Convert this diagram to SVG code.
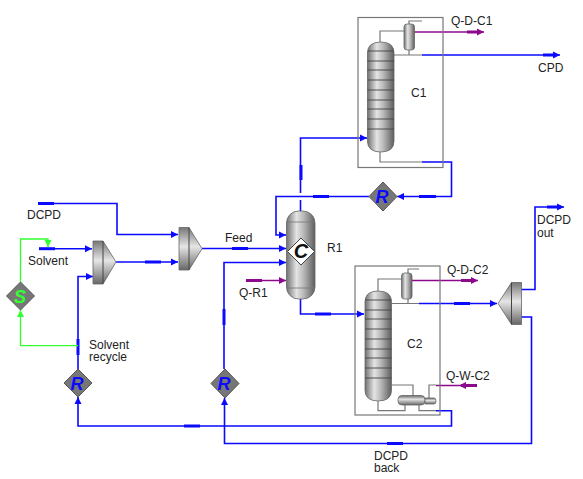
<svg xmlns="http://www.w3.org/2000/svg" width="583" height="479" viewBox="0 0 583 479">
<style>
text{font-family:"Liberation Sans",Arial,sans-serif;font-size:12px;fill:#222}
.b{fill:none;stroke:#0a0aff;stroke-width:1.6}
.p{fill:none;stroke:#8b0a8b;stroke-width:1.6}
.g{fill:none;stroke:#32ff32;stroke-width:1.3}
.k{fill:none;stroke:#777;stroke-width:1.2}
.box{fill:none;stroke:#777;stroke-width:1.2}
.bt{fill:none;stroke:#0a0aff;stroke-width:3}
.pt{fill:none;stroke:#8b0a8b;stroke-width:3}
.tray{stroke:#444;stroke-width:.9}
.ol{stroke:#666;stroke-width:.8}
.dia{fill:#777;stroke:#555;stroke-width:1}
.dl{font-size:18px;font-weight:bold;font-style:italic;text-anchor:middle;fill:#0a0aff}
</style>
<defs>
<linearGradient id="col" x1="0" x2="1" y1="0" y2="0"><stop offset="0" stop-color="#707070"/><stop offset=".35" stop-color="#e4e4e4"/><stop offset=".6" stop-color="#b8b8b8"/><stop offset="1" stop-color="#5e5e5e"/></linearGradient>
<linearGradient id="cap" x1="0" x2="0" y1="0" y2="1"><stop offset="0" stop-color="#8a8a8a"/><stop offset=".6" stop-color="#d8d8d8"/><stop offset="1" stop-color="#9a9a9a"/></linearGradient>
<linearGradient id="hz" x1="0" x2="0" y1="0" y2="1"><stop offset="0" stop-color="#666"/><stop offset=".4" stop-color="#e4e4e4"/><stop offset="1" stop-color="#666"/></linearGradient>
<linearGradient id="mix" x1="0" x2="0" y1="0" y2="1"><stop offset="0" stop-color="#777"/><stop offset=".45" stop-color="#e6e6e6"/><stop offset="1" stop-color="#666"/></linearGradient>
<marker id="ab" markerUnits="userSpaceOnUse" markerWidth="8" markerHeight="8" refX="7" refY="4" orient="auto"><path d="M0 .5L7 4L0 7.5z" fill="#0a0aff"/></marker>
<marker id="ap" markerUnits="userSpaceOnUse" markerWidth="8" markerHeight="8" refX="7" refY="4" orient="auto"><path d="M0 .5L7 4L0 7.5z" fill="#8b0a8b"/></marker>
<marker id="ag" markerUnits="userSpaceOnUse" markerWidth="8" markerHeight="8" refX="7" refY="4" orient="auto"><path d="M0 .5L7 4L0 7.5z" fill="#32ff32"/></marker>
<g id="column">
<path d="M0 11Q0 0 13.250 0Q26.500 0 26.500 11V99Q26.500 110 13.250 110Q0 110 0 99Z" fill="url(#col)" class="ol"/>
<path d="M0 9H26.500M0 19H26.500M0 28H26.500M0 38H26.500M0 48H26.500M0 58H26.500M0 67H26.500M0 77H26.500M0 87H26.500" class="tray"/>
</g>
<g id="cond">
<rect x="0" y="0" width="10.500" height="26" rx="3" fill="url(#col)" class="ol"/>
</g>
</defs>

<g id="connectors">
<path class="k" d="M380 42V31H404M409 24V21H422M409 50V55M394 55H422M380 152V162H422"/>
<path class="b" d="M422 55H560" marker-end="url(#ab)"/><path class="bt" d="M543 55H556"/>
<path class="p" d="M414 32H484" marker-end="url(#ap)"/><path class="pt" d="M467 32H480"/>
<path class="b" d="M422 162H451.500V196.500H397" marker-end="url(#ab)"/><path class="bt" d="M419 196.500H436"/>
<path class="b" d="M369 196.500H276V235H286" marker-end="url(#ab)"/><path class="bt" d="M313 196.500H329"/>
<path class="b" d="M300.500 211V200M300.500 193V138H367" marker-end="url(#ab)"/><path class="bt" d="M301 165V180"/>
<path class="b" d="M202 248.500H286" marker-end="url(#ab)"/><path class="bt" d="M232 248.500H248"/>
<path class="b" d="M224 369V262.500H286" marker-end="url(#ab)"/><path class="bt" d="M224 309V325"/>
<path class="p" d="M246 280.500H286" marker-end="url(#ap)"/><path class="pt" d="M246 280.500H262"/>
<path class="b" d="M300.500 299V314H364" marker-end="url(#ab)"/><path class="bt" d="M315 314H331"/>
<path class="k" d="M378 291V279H402M408 273V269H419M408 298V303.500M392 303.500H419M392 385H413V396M378 401V410.700H405V404M419 404V410.700H436M429 398V385H436"/>
<path class="b" d="M419 303.500H497" marker-end="url(#ab)"/><path class="bt" d="M454 303.500H470"/>
<path class="p" d="M412 280.500H478" marker-end="url(#ap)"/><path class="pt" d="M461 280.500H475"/>
<path class="p" d="M477 385.500H436"/><path class="pt" d="M461 385.500H477"/><path d="M459 385.500L466 382V389z" fill="#8b0a8b"/>
<path class="b" d="M521 289.500H535V207H564" marker-end="url(#ab)"/><path class="bt" d="M547 207H561"/>
<path class="b" d="M521 317H531.500V443.500H224.500V398" marker-end="url(#ab)"/><path class="bt" d="M387 443.500H403"/>
<path class="b" d="M436 410.700H451.500V426H78V397" marker-end="url(#ab)"/><path class="bt" d="M184 426H200"/>
<path class="b" d="M38 203.500H117V234.500H178" marker-end="url(#ab)"/><path class="bt" d="M38 203.500H54"/>
<path class="b" d="M39 248.700H92" marker-end="url(#ab)"/><path class="bt" d="M39 248.700H55"/>
<path class="b" d="M116 262H178" marker-end="url(#ab)"/><path class="bt" d="M145 262H161"/>
<path class="b" d="M78 369V276.500H93" marker-end="url(#ab)"/><path class="bt" d="M78 339V355"/>
<path class="g" d="M78 345.700H20.500V310" marker-end="url(#ag)"/>
<path class="g" d="M20.500 282V239H48V247" marker-end="url(#ag)"/>
</g>

<g id="C1"><rect class="box" x="358" y="17.500" width="85" height="150"/><use href="#column" x="367.500" y="42"/><use href="#cond" x="404" y="24"/><text x="411" y="97">C1</text></g>
<g id="C2"><rect class="box" x="355" y="266" width="85" height="149"/><use href="#column" x="365" y="291"/><use href="#cond" x="401.500" y="273"/>
<rect x="398" y="395.500" width="27" height="9.500" rx="4" fill="url(#hz)" class="ol"/><path d="M425 398H434Q436 398 436 401Q436 404 434 404H425Z" fill="url(#hz)" class="ol"/><text x="407" y="348">C2</text></g>
<g id="R1"><rect x="286.500" y="211" width="28.500" height="88" rx="12" fill="url(#col)" class="ol"/><path d="M287 222H315M287 288H315" stroke="#777" stroke-width=".8"/><path d="M301 238L314.500 251.500L301 265L287.500 251.500Z" fill="#fff" stroke="#444"/><text x="301" y="258" style="font-size:20px;font-weight:bold;font-style:italic;text-anchor:middle;fill:#111">C</text><text x="327" y="252">R1</text></g>
<g id="mixer1"><path d="M93 241H103L116 262L103 284H93Z" fill="url(#mix)" class="ol"/><path d="M103 241V284" stroke="#444"/></g>
<g id="mixer2"><path d="M179 227.500H189L202 248.700L189 270H179Z" fill="url(#mix)" class="ol"/><path d="M189 227.500V270" stroke="#444"/></g>
<g id="splitter"><path d="M521.500 282.500H511.500L498 303.500L511.500 324.500H521.500Z" fill="url(#mix)" class="ol"/><path d="M511.500 282.500V324.500" stroke="#444"/></g>
<g id="R-C1"><path class="dia" d="M383 182L397 196.500L383 211L369 196.500Z"/><text class="dl" x="382" y="203">R</text></g>
<g id="R-solvent"><path class="dia" d="M78 369L92 383L78 397L64 383Z"/><text class="dl" x="77" y="389.500">R</text></g>
<g id="R-back"><path class="dia" d="M225 369L239 383.500L225 398L211 383.500Z"/><text class="dl" x="224" y="390">R</text></g>
<g id="S"><path class="dia" d="M20.500 282L34.500 296L20.500 310L6.500 296Z"/><text class="dl" x="20" y="302.500" style="fill:#32ff32">S</text></g>
<g id="labels">
<text x="451" y="25">Q-D-C1</text><text x="538" y="71.500">CPD</text>
<text x="447" y="274">Q-D-C2</text><text x="446" y="380">Q-W-C2</text>
<text x="537" y="224">DCPD</text><text x="537" y="236.500">out</text>
<text x="374" y="460">DCPD</text><text x="374" y="472">back</text>
<text x="27" y="219">DCPD</text><text x="28" y="264.500">Solvent</text>
<text x="89" y="349">Solvent</text><text x="89" y="361">recycle</text>
<text x="225" y="241.500">Feed</text><text x="239" y="296.500">Q-R1</text>
</g>
</svg>
